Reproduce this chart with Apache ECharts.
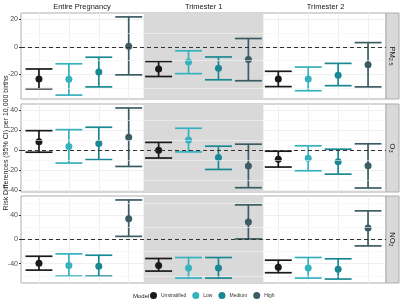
<!DOCTYPE html>
<html>
<head>
<meta charset="utf-8">
<script src="https://cdn.jsdelivr.net/npm/echarts@6/dist/echarts.min.js"></script>
<style>
  html, body { margin: 0; padding: 0; background: #fff; }
  #chart { width: 400px; height: 300px; }
</style>
</head>
<body>
<div id="chart"></div>
<script>
const periods = ["Entire Pregnancy", "Trimester 1", "Trimester 2"];
const models = ["Unstratified", "Low", "Medium", "High"];
const modelColors = ["#1A1A1A", "#35B2BE", "#1A8893", "#3B5C64"];

// 12 values per row: period by period, models in order
const pm25Est = [-23.6, -23.8, -18.4, 0.4, -16.2, -11, -15.7, -9.3, -23.6, -23.6, -20.7, -13.1];
const pm25Lo = [-30.7, -35.3, -29.3, -20.5, -21.7, -19.6, -24.1, -24.8, -29.1, -32.1, -28.4, -29.3];
const pm25Hi = [-16.2, -12.4, -7.6, 21.9, -10.7, -2.9, -7.4, 6.1, -17.9, -14.8, -12.1, 3.1];

const o3Est = [8.4, 3.7, 6.8, 12.8, 0, 10.1, -7.4, -15.8, -9.1, -8.1, -11.4, -15.5];
const o3Lo = [-2, -12.8, -9.4, -16.2, -7.8, -1.7, -19.2, -37.4, -16.8, -20.5, -23.9, -37.7];
const o3Hi = [19.5, 20.5, 22.9, 42.1, 7.8, 21.9, 4, 6, -1, 4.4, 1, 6.4];

const no2Est = [-39.2, -42.9, -44.1, 33.8, -42.9, -47.3, -47.3, 28.4, -45.7, -47.3, -49, 18.6];
const no2Lo = [-50.6, -60.4, -60.4, 4.9, -52.2, -63.7, -63.7, 0.7, -54.9, -63.7, -65.3, -10.8];
const no2Hi = [-27.8, -23.9, -26.1, 64.8, -31.5, -29.9, -29.9, 56.7, -34.3, -29.9, -32, 46.9];

const yTicks = [[-20, 0, 20], [-40, -20, 0, 20, 40], [-40, 0, 40]];
const yMinor = [[-30, -10, 10], [-30, -10, 10, 30], [-60, -20, 20, 60]];

const rows = [
  { est: pm25Est, lo: pm25Lo, hi: pm25Hi, label: "{n|PM}{s|2.5}" },
  { est: o3Est, lo: o3Lo, hi: o3Hi, label: "{n|O}{s|3}" },
  { est: no2Est, lo: no2Lo, hi: no2Hi, label: "{n|NO}{s|2}" },
];

const gridBoxes = [
  { top: 13, height: 86 },
  { top: 104, height: 88 },
  { top: 196, height: 87 },
];

const chart = echarts.init(document.getElementById("chart"));

function renderBar(params, api) {
  const x = api.value(0);
  const a = api.coord([x - 0.45, api.value(1)]);
  const b = api.coord([x + 0.45, api.value(2)]);
  const c = api.coord([x, 0])[0];
  const st = { stroke: api.visual("color"), lineWidth: 1.7 };
  return {
    type: "group",
    children: [
      { type: "line", shape: { x1: c, y1: a[1], x2: c, y2: b[1] }, style: st },
      { type: "line", shape: { x1: a[0], y1: a[1], x2: b[0], y2: a[1] }, style: st },
      { type: "line", shape: { x1: a[0], y1: b[1], x2: b[0], y2: b[1] }, style: st },
    ],
  };
}

const grid = [], xAxis = [], yAxis = [], series = [], graphic = [];

rows.forEach((row, r) => {
  const lo = Math.min(...row.lo), hi = Math.max(...row.hi);
  const pad = (hi - lo) * 0.05;
  grid.push({
    left: 21, right: 14, top: gridBoxes[r].top, height: gridBoxes[r].height,
    show: true, borderColor: "#ADADAD", borderWidth: 1, backgroundColor: "#fff",
  });
  xAxis.push({
    type: "value", gridIndex: r, min: -0.6, max: 11.6,
    axisLine: { show: false, onZero: false }, axisLabel: { show: false },
    axisTick: { show: false, customValues: [0, 1, 2, 3, 4, 5, 6, 7, 8, 9, 10, 11] },
    splitLine: { show: true, lineStyle: { color: "#EBEBEB", width: 0.8 } },
  });
  yAxis.push({
    type: "value", gridIndex: r, min: lo - pad, max: hi + pad,
    axisLine: { show: false, onZero: false },
    axisTick: { show: true, length: 2, customValues: yTicks[r], lineStyle: { color: "#333" } },
    axisLabel: { customValues: yTicks[r], fontSize: 7, color: "#4D4D4D", margin: 3, fontFamily: "Liberation Sans" },
    splitLine: { show: true, lineStyle: { color: "#EBEBEB", width: 0.8 } },
  });
  // background: shaded trimester 1 band, minor grid and zero line
  series.push({
    type: "line", xAxisIndex: r, yAxisIndex: r, data: [], silent: true, z: 1,
    markArea: {
      silent: true,
      itemStyle: { color: "#D9D9D9" },
      data: [[{ xAxis: 3.5 }, { xAxis: 7.5 }]],
    },
    markLine: {
      silent: true, symbol: "none", label: { show: false },
      data: yMinor[r].map((v) => ({ yAxis: v, lineStyle: { color: "#F4F4F4", width: 0.6, type: "solid" } }))
        .concat([{ yAxis: 0, lineStyle: { color: "#333", width: 1, type: [4, 3] } }]),
    },
  });
  models.forEach((m, k) => {
    const bars = [], pts = [];
    periods.forEach((p, j) => {
      const i = j * 4 + k;
      bars.push([i, row.lo[i], row.hi[i]]);
      pts.push([i, row.est[i]]);
    });
    series.push({
      type: "custom", name: m, xAxisIndex: r, yAxisIndex: r, z: 3,
      itemStyle: { color: modelColors[k] },
      renderItem: renderBar, encode: { x: 0, y: [1, 2] }, data: bars,
    });
    series.push({
      type: "scatter", name: m, xAxisIndex: r, yAxisIndex: r, z: 4,
      symbolSize: 7, itemStyle: { color: modelColors[k], opacity: 1 }, data: pts,
    });
  });
  // right strip
  const cy = gridBoxes[r].top + gridBoxes[r].height / 2;
  graphic.push({
    type: "rect", shape: { x: 386, y: gridBoxes[r].top, width: 13, height: gridBoxes[r].height },
    style: { fill: "#D9D9D9", stroke: "#ADADAD", lineWidth: 1 }, silent: true,
  });
  graphic.push({
    type: "text", x: 392.5, y: cy, rotation: -Math.PI / 2,
    style: {
      text: row.label, align: "center", verticalAlign: "middle",
      rich: {
        n: { fontSize: 7.5, fill: "#1A1A1A", fontFamily: "Liberation Sans" },
        s: { fontSize: 5.5, fill: "#1A1A1A", fontFamily: "Liberation Sans", padding: [4, 0, 0, 0] },
      },
    },
  });
});

// column titles
periods.forEach((p, j) => {
  graphic.push({
    type: "text", x: 21 + 121.8 * j + 60.9, y: 6.5,
    style: { text: p, align: "center", verticalAlign: "middle", fontSize: 7.5, fill: "#1A1A1A", fontFamily: "Liberation Sans" },
  });
});

// y axis title
graphic.push({
  type: "text", x: 6, y: 143, rotation: Math.PI / 2,
  style: {
    text: "Risk Differences (95% CI) per 10,000 births",
    align: "center", verticalAlign: "middle", fontSize: 7, fill: "#1A1A1A", fontFamily: "Liberation Sans",
  },
});

// legend title
graphic.push({
  type: "text", x: 133, y: 296,
  style: { text: "Model", align: "left", verticalAlign: "middle", fontSize: 6, fill: "#1A1A1A", fontFamily: "Liberation Sans" },
});

chart.setOption({
  animation: false,
  backgroundColor: "#fff",
  grid, xAxis, yAxis, series, graphic,
  legend: {
    data: models.map((m) => ({ name: m, icon: "circle" })),
    left: 150, top: 292, padding: 0, itemWidth: 7, itemHeight: 7, itemGap: 6,
    textStyle: { fontSize: 5, color: "#333", fontFamily: "Liberation Sans", padding: [0, 0, 0, -1] },
  },
});
</script>
</body>
</html>
